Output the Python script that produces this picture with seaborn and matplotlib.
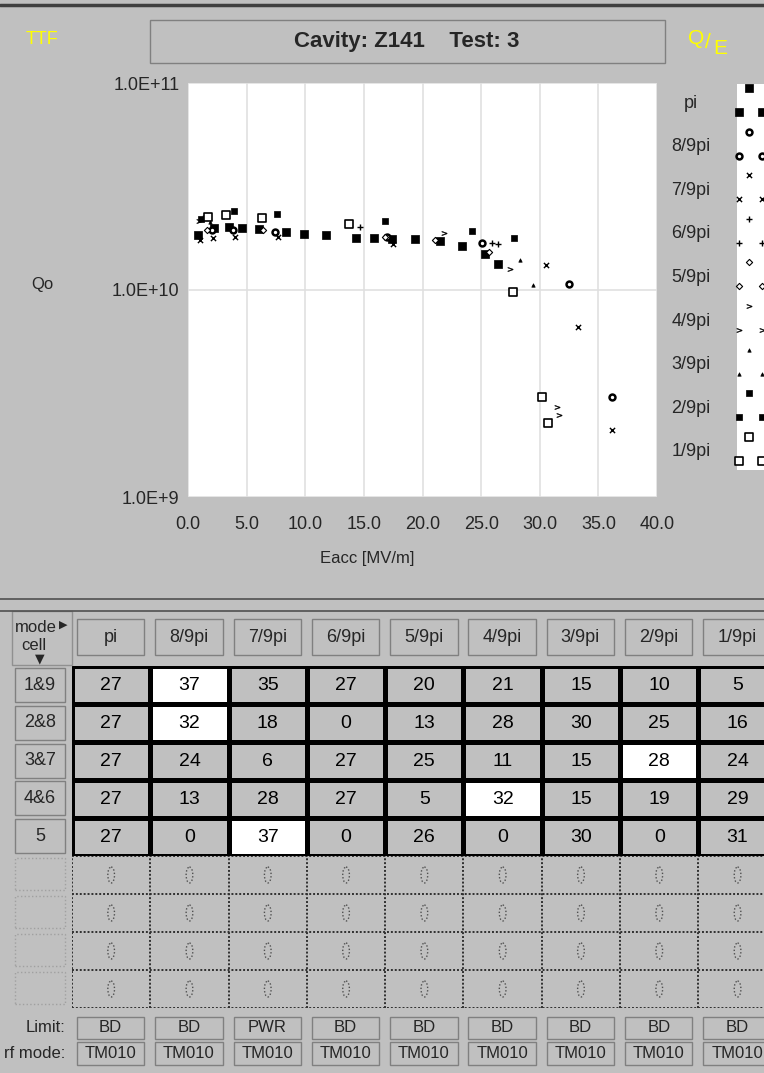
import numpy as np
import pandas as pd
import seaborn as sns
import matplotlib.pyplot as plt
from matplotlib.colors import ListedColormap
from matplotlib.patches import Rectangle, Ellipse
from matplotlib.lines import Line2D

W, H = 764, 1073
GRAY = "#c0c0c0"

modes = ["pi", "8/9pi", "7/9pi", "6/9pi", "5/9pi", "4/9pi", "3/9pi", "2/9pi", "1/9pi"]
cells = ["1&9", "2&8", "3&7", "4&6", "5"]

# Qo vs Eacc, one pair of lists per mode
e_pi = [0.85, 2.2, 3.5, 4.6, 6.05, 8.4, 9.9, 11.8, 14.3, 15.9, 17.4, 19.4, 21.5, 23.4, 25.3, 26.4]
q_pi = [1.85e10, 2.0e10, 2.01e10, 2.0e10, 1.97e10, 1.9e10, 1.86e10, 1.85e10, 1.78e10, 1.78e10,
        1.76e10, 1.76e10, 1.73e10, 1.63e10, 1.5e10, 1.34e10]
e_89 = [2.05, 3.8, 7.4, 17.0, 25.1, 32.5, 36.2]
q_89 = [1.95e10, 1.95e10, 1.9e10, 1.8e10, 1.69e10, 1.07e10, 3.04e9]
e_79 = [1.0, 2.1, 4.0, 7.7, 17.5, 30.5, 33.3, 36.2]
q_79 = [1.75e10, 1.78e10, 1.8e10, 1.8e10, 1.67e10, 1.32e10, 6.6e9, 2.1e9]
e_69 = [1.3, 14.7, 25.9, 26.4]
q_69 = [2.23e10, 2.01e10, 1.69e10, 1.67e10]
e_59 = [1.6, 6.4, 16.8, 21.1, 25.7]
q_59 = [1.95e10, 1.95e10, 1.8e10, 1.75e10, 1.53e10]
e_49 = [0.9, 21.8, 27.5, 31.5, 31.6]
q_49 = [2.15e10, 1.88e10, 1.26e10, 2.72e9, 2.49e9]
e_39 = [1.9, 28.3, 29.4]
q_39 = [2.14e10, 1.4e10, 1.06e10]
e_29 = [1.1, 3.9, 7.6, 16.8, 24.2, 27.8]
q_29 = [2.2e10, 2.41e10, 2.33e10, 2.15e10, 1.93e10, 1.78e10]
e_19 = [1.7, 3.2, 6.3, 13.7, 27.7, 30.2, 30.7]
q_19 = [2.25e10, 2.3e10, 2.23e10, 2.08e10, 9.8e9, 3.04e9, 2.28e9]

eacc = [e_pi, e_89, e_79, e_69, e_59, e_49, e_39, e_29, e_19]
qo = [q_pi, q_89, q_79, q_69, q_59, q_49, q_39, q_29, q_19]

x_ticks = [0, 5, 10, 15, 20, 25, 30, 35, 40]
y_ticks = [1e9, 1e10, 1e11]
y_ticklabels = ["1.0E+9", "1.0E+10", "1.0E+11"]

# max gradient per cell pair for each mode [MV/m]
row_19 = [27, 37, 35, 27, 20, 21, 15, 10, 5]
row_28 = [27, 32, 18, 0, 13, 28, 30, 25, 16]
row_37 = [27, 24, 6, 27, 25, 11, 15, 28, 24]
row_46 = [27, 13, 28, 27, 5, 32, 15, 19, 29]
row_5 = [27, 0, 37, 0, 26, 0, 30, 0, 31]
limits = ["BD", "BD", "PWR", "BD", "BD", "BD", "BD", "BD", "BD"]
rf_modes = ["TM010"] * 9

# marker styles per mode: marker, size, filled, linewidth
styles = {
    "pi": ("s", 36, True, 0.5),
    "8/9pi": ("o", 18, False, 1.8),
    "7/9pi": ("x", 14, True, 1.0),
    "6/9pi": ("+", 18, True, 1.0),
    "5/9pi": ("D", 10, False, 0.8),
    "4/9pi": ("$>$", 14, True, 0.3),
    "3/9pi": ("^", 6, True, 0.5),
    "2/9pi": ("s", 14, True, 0.5),
    "1/9pi": ("s", 30, False, 1.2),
}

sns.set_style("white")
plt.rcParams["font.family"] = ["Liberation Sans", "DejaVu Sans"]

fig = plt.figure(figsize=(W / 100, H / 100), dpi=100, facecolor=GRAY)


def fx(x):
    return x / W


def fy(y):
    return 1 - y / H


def box(x0, y0, x1, y1, text="", size=12, ls="-", ec="#808080"):
    fig.add_artist(Rectangle((fx(x0), fy(y1)), fx(x1) - fx(x0), fy(y0) - fy(y1),
                             transform=fig.transFigure, facecolor=GRAY,
                             edgecolor=ec, linewidth=1, linestyle=ls))
    if text:
        fig.text(fx((x0 + x1) / 2), fy((y0 + y1) / 2), text, ha="center", va="center",
                 fontsize=size)


# frame lines
fig.add_artist(Line2D([0, 1], [fy(5), fy(5)], color="#404040", lw=2.5, transform=fig.transFigure))
fig.add_artist(Line2D([0, 1], [fy(599), fy(599)], color="#505050", lw=1.2, transform=fig.transFigure))
fig.add_artist(Line2D([0, 1], [fy(611), fy(611)], color="#505050", lw=1.2, transform=fig.transFigure))

# header
box(150, 20, 665, 63)
fig.text(fx(407), fy(41), "Cavity: Z141    Test: 3", ha="center", va="center",
         fontsize=16, fontweight="bold")
fig.text(fx(42), fy(40), "TTF", ha="center", va="center", fontsize=13, color="#ffff00")
fig.text(fx(696), fy(38), "Q", ha="center", va="center", fontsize=15, color="#ffff00")
fig.text(fx(708), fy(43), "/", ha="center", va="center", fontsize=15, color="#ffff00")
fig.text(fx(720), fy(49), "E", ha="center", va="center", fontsize=15, color="#ffff00")

# Qo vs Eacc
ax = fig.add_axes([fx(188), fy(497), fx(657) - fx(188), fy(83) - fy(497)])
ax.set_facecolor("white")
for m, e, q in zip(modes, eacc, qo):
    mk, s, filled, lw = styles[m]
    d = pd.DataFrame({"Eacc": e, "Qo": q})
    if filled:
        sns.scatterplot(data=d, x="Eacc", y="Qo", marker=mk, s=s, color="black",
                        edgecolor="black", linewidth=lw, ax=ax, zorder=3)
    else:
        sns.scatterplot(data=d, x="Eacc", y="Qo", marker=mk, s=s, color="black",
                        facecolor="white", edgecolor="black", linewidth=lw, ax=ax, zorder=3)
ax.set_yscale("log")
ax.set_xlim(0, 40)
ax.set_ylim(1e9, 1e11)
ax.set_xticks(x_ticks)
ax.set_xticklabels([f"{t:.1f}" for t in x_ticks], fontsize=13)
ax.set_yticks(y_ticks)
ax.set_yticklabels(y_ticklabels, fontsize=13)
ax.minorticks_off()
ax.tick_params(axis="both", direction="out", length=5, width=1, color="black", pad=1)
ax.tick_params(axis="x", pad=9)
ax.grid(True, color="#e0e0e0", lw=1.2)
for sp in ax.spines.values():
    sp.set_visible(False)
ax.set_xlabel("")
ax.set_ylabel("")
fig.text(fx(367), fy(558), "Eacc [MV/m]", ha="center", va="center", fontsize=12)
fig.text(fx(42), fy(285), "Qo", ha="center", va="center", fontsize=12)

# legend
lax = fig.add_axes([fx(737), fy(470), fx(776) - fx(737), fy(84) - fy(470)])
lax.set_facecolor("white")
lax.set_xlim(737, 776)
lax.set_ylim(470, 84)
lax.set_xticks([])
lax.set_yticks([])
for sp in lax.spines.values():
    sp.set_visible(False)
for i, m in enumerate(modes):
    yl = 103 + i * 43.6
    fig.text(fx(691), fy(yl), m, ha="center", va="center", fontsize=13)
    mk, s, filled, lw = styles[m]
    fc = "black" if filled else "white"
    lax.scatter([749], [yl - 15], marker=mk, s=s, facecolor=fc, edgecolor="black",
                linewidth=lw, clip_on=False)
    lax.scatter([739, 762], [yl + 9, yl + 9], marker=mk, s=s, facecolor=fc,
                edgecolor="black", linewidth=lw, clip_on=False)

# table
grad = pd.DataFrame([row_19, row_28, row_37, row_46, row_5], index=cells, columns=modes)
best = grad.eq(grad.max(axis=1), axis=0).astype(int)

col_w = 78.3
tx0 = 72
tax = fig.add_axes([fx(tx0), fy(856), fx(tx0 + 9 * col_w) - fx(tx0), fy(666) - fy(856)])
sns.heatmap(best, annot=grad, fmt="d", cmap=ListedColormap([GRAY, "white"]), vmin=0, vmax=1,
            cbar=False, linewidths=2.2, linecolor="black", xticklabels=False,
            yticklabels=False, annot_kws={"fontsize": 14, "color": "black"}, ax=tax)

# empty rows
eax = fig.add_axes([fx(tx0), fy(1008), fx(tx0 + 9 * col_w) - fx(tx0), fy(856) - fy(1008)])
eax.set_facecolor(GRAY)
eax.set_xlim(0, 9)
eax.set_ylim(4, 0)
eax.set_xticks([])
eax.set_yticks([])
for sp in eax.spines.values():
    sp.set_visible(False)
for k in range(5):
    eax.axhline(k, color="#303030", lw=1.4, ls=(0, (1, 1)))
for k in range(10):
    eax.axvline(k, color="#303030", lw=1.4, ls=(0, (1, 1)))
for r in range(4):
    for c in range(9):
        eax.add_patch(Ellipse((c + 0.5, r + 0.5), 0.085, 0.42, facecolor="none",
                              edgecolor="#505050", lw=1.0, ls=(0, (1, 1.5))))

# header row and row labels
box(12, 611, 72, 665, ec="#909090")
fig.text(fx(36), fy(628), "mode", ha="center", va="center", fontsize=12)
fig.text(fx(63), fy(625), "\u25b6", ha="center", va="center", fontsize=8,
         family="DejaVu Sans")
fig.text(fx(34), fy(646), "cell", ha="center", va="center", fontsize=12)
fig.text(fx(40), fy(659), "\u25bc", ha="center", va="center", fontsize=9,
         family="DejaVu Sans")
for j, m in enumerate(modes):
    x0 = tx0 + j * col_w
    box(x0 + 5, 619, x0 + col_w - 6, 655, m, size=13)
    box(x0 + 5, 1017, x0 + col_w - 6, 1039, limits[j], size=12)
    box(x0 + 5, 1042, x0 + col_w - 6, 1065, rf_modes[j], size=12)
for i, c in enumerate(cells):
    y0 = 667 + i * 37.8
    box(15, y0 + 1, 65, y0 + 35, c, size=13)
for i in range(4):
    y0 = 856 + i * 38
    box(15, y0 + 2, 65, y0 + 34, ls=":", ec="#a0a0a0")
fig.text(fx(65), fy(1028), "Limit:", ha="right", va="center", fontsize=12)
fig.text(fx(65), fy(1053), "rf mode:", ha="right", va="center", fontsize=12)

fig.savefig("out.png", dpi=100, facecolor=GRAY)
